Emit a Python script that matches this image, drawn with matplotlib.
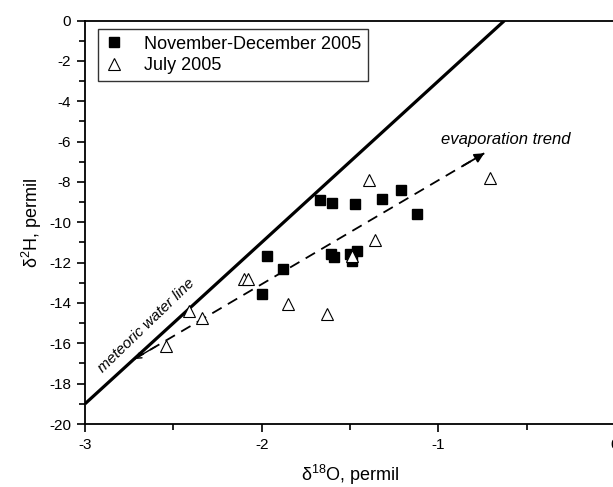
import matplotlib
matplotlib.use("Agg")
import matplotlib.pyplot as plt
from matplotlib.ticker import MultipleLocator

plt.rcParams["font.family"] = ["Liberation Sans", "DejaVu Sans"]
plt.rcParams["mathtext.fontset"] = "custom"
plt.rcParams["mathtext.rm"] = "Liberation Sans"
plt.rcParams["mathtext.it"] = "Liberation Sans:italic"

# November-December 2005 samples
nov_x = [-1.67, -1.60, -1.47, -1.32, -1.21, -1.12, -1.97, -1.88, -2.00,
         -1.61, -1.59, -1.50, -1.49, -1.46]
nov_y = [-8.88, -9.04, -9.08, -8.83, -8.38, -9.57, -11.68, -12.34, -13.58,
         -11.58, -11.70, -11.55, -11.92, -11.42]

# July 2005 samples
jul_x = [-1.39, -1.36, -0.71, -2.10, -2.08, -1.85, -1.63, -2.41, -2.34,
         -2.54, -1.49]
jul_y = [-7.92, -10.86, -7.81, -12.82, -12.82, -14.03, -14.55, -14.41,
         -14.77, -16.14, -11.65]

# meteoric water line (dH = 8 dO + 5) and evaporation trend
mwl_x = [-3.0, -0.625]
mwl_y = [-19.0, 0.0]
trend_x = [-2.72, -0.74]
trend_y = [-16.78, -6.58]

fig = plt.figure(figsize=(6.13, 4.87), dpi=100)
ax = fig.add_axes([85 / 613, 63 / 487, 530 / 613, 403.5 / 487])

ax.plot(mwl_x, mwl_y, color="black", lw=2.3, solid_capstyle="butt")
ax.plot(trend_x, trend_y, color="black", lw=1.3, ls=(0, (6, 4)))

# arrow heads at both ends of the trend line
ax.annotate("", xy=(trend_x[1], trend_y[1]),
            xytext=(trend_x[1] - 0.12, trend_y[1] - 0.62),
            arrowprops=dict(arrowstyle="-|>", color="black", lw=1.3,
                            mutation_scale=14, shrinkA=0, shrinkB=0))
ax.annotate("", xy=(trend_x[0], trend_y[0]),
            xytext=(trend_x[0] + 0.12, trend_y[0] + 0.62),
            arrowprops=dict(arrowstyle="->", color="black", lw=1.0,
                            mutation_scale=10, shrinkA=0, shrinkB=0))

ax.plot(nov_x, nov_y, ls="none", marker="s", ms=6.8, color="black",
        label="November-December 2005")
ax.plot(jul_x, jul_y, ls="none", marker="^", ms=8, mfc="white",
        mec="black", mew=0.8, label="July 2005")

ax.text(-0.985, -5.9, "evaporation trend", style="italic", fontsize=12,
        ha="left", va="center")
ax.text(-2.65, -15.1, "meteoric water line", style="italic", fontsize=11,
        rotation=44, ha="center", va="center", rotation_mode="anchor")

ax.set_xlim(-3, 0)
ax.set_ylim(-20, 0)
ax.xaxis.set_major_locator(MultipleLocator(1))
ax.xaxis.set_minor_locator(MultipleLocator(0.5))
ax.yaxis.set_major_locator(MultipleLocator(2))
ax.yaxis.set_minor_locator(MultipleLocator(1))
ax.xaxis.set_major_formatter(plt.FuncFormatter(lambda v, p: f"{v:g}"))
ax.yaxis.set_major_formatter(plt.FuncFormatter(lambda v, p: f"{v:g}"))
ax.tick_params(which="both", direction="out", top=False, right=False,
               labelsize=11, width=1.2)
ax.tick_params(which="major", length=6, pad=4)
ax.tick_params(which="minor", length=4)
for s in ax.spines.values():
    s.set_linewidth(1.3)

ax.set_xlabel("δ$^{18}$O, permil", fontsize=13, labelpad=8)
ax.set_ylabel("δ$^{2}$H, permil", fontsize=13, labelpad=4)

leg = ax.legend(loc="upper left", bbox_to_anchor=(0.025, 0.978),
                fontsize=13, frameon=True, fancybox=False, edgecolor="black",
                handlelength=1.0, handletextpad=1.2, borderpad=0.35,
                labelspacing=0.25, borderaxespad=0)
leg.get_frame().set_linewidth(1.0)

fig.savefig("out.png", dpi=100)
